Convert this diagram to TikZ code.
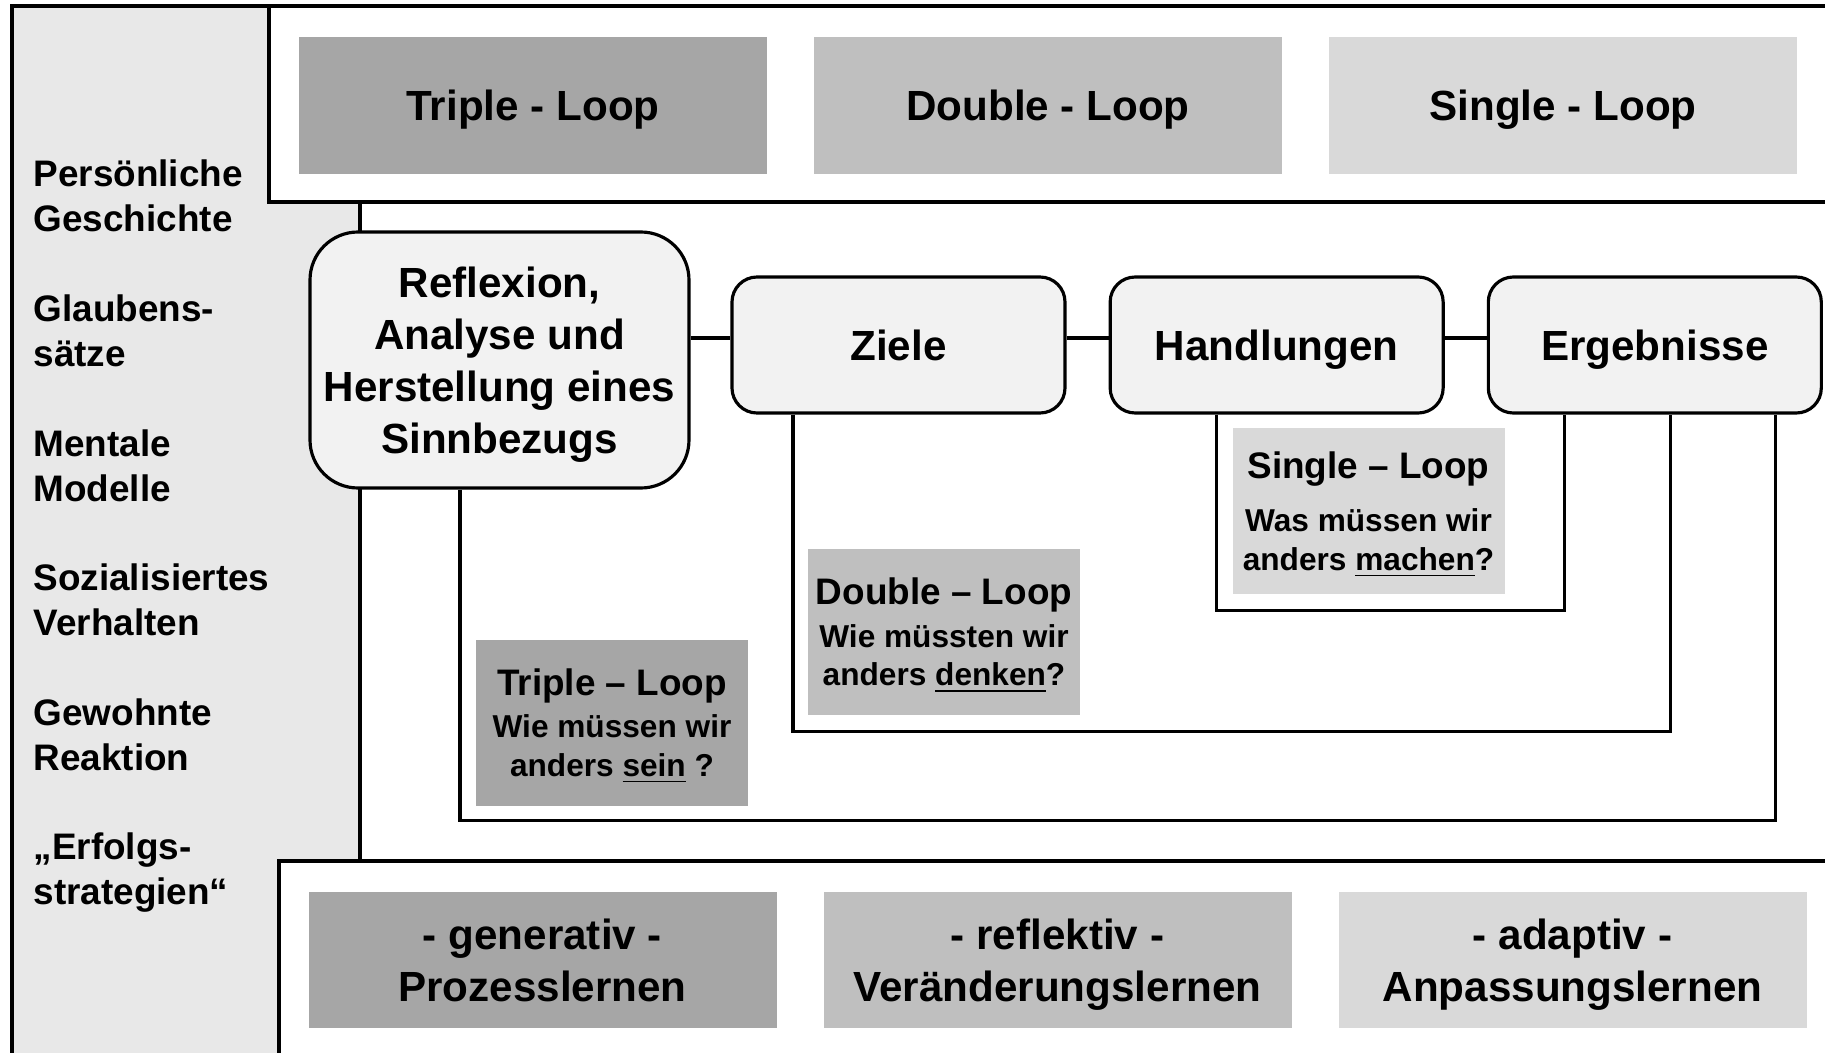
\documentclass[tikz,border=0pt]{standalone}
\usepackage{fontspec}
\setmainfont{Liberation Sans}
\usepackage{tikz}
\usetikzlibrary{positioning}
\definecolor{loopdark}{HTML}{A6A6A6}
\definecolor{loopmid}{HTML}{BFBFBF}
\definecolor{looplight}{HTML}{D9D9D9}
\definecolor{sidegray}{HTML}{E8E8E8}
\definecolor{boxgray}{HTML}{F2F2F2}
\newcommand{\asktitle}[1]{{\fontsize{10.5}{12}\selectfont #1}}

\begin{document}
\begin{tikzpicture}[x=0.1mm,y=-0.1mm,line width=0.9pt,
    band/.style={minimum width=46.8mm,minimum height=13.7mm,inner sep=0pt,outer sep=0pt,align=center,
      text depth=0pt,font=\bfseries\fontsize{12}{14.8}\selectfont},
    stepbox/.style={draw,fill=boxgray,rounded corners=2.5mm,minimum width=33.3mm,
      minimum height=13.6mm,inner sep=0pt,align=center,text depth=0pt,font=\bfseries\fontsize{12}{14.8}\selectfont},
    askbox/.style={minimum width=27.2mm,minimum height=16.6mm,inner sep=0pt,align=center,
      text depth=-1.2pt,font=\bfseries\fontsize{9}{11}\selectfont},
    sidetext/.style={anchor=west,inner sep=0pt,align=left,text depth=0pt,font=\bfseries\fontsize{10.5}{12.8}\selectfont}]
        \useasboundingbox (0,0) rectangle (1825,1053);

        % frames
        \draw[fill=sidegray] (12,6) rectangle (360,1070);
        \draw[fill=white] (269,6) rectangle (1840,202);
        \draw[fill=white] (279,861) rectangle (1840,1070);

        % left column
        \foreach \txt [count=\i from 0] in {Persönliche\\Geschichte, Glaubens-\\sätze,
            Mentale\\Modelle, Sozialisiertes\\Verhalten, Gewohnte\\Reaktion, „Erfolgs-\\strategien“}
          \node[sidetext] (side\i) at (32,{196+134.6*\i}) {\txt};

        % loop types (top)
        \node[band,fill=loopdark] (tl) at (533,105.5) {Triple - Loop};
        \node[band,fill=loopmid,right=4.7mm of tl] (dl) {Double - Loop};
        \node[band,fill=looplight,right=4.7mm of dl] (sl) {Single - Loop};

        % learning types (bottom)
        \node[band,fill=loopdark,minimum height=13.6mm] (gen) at (542.5,960) {- generativ -\\Prozesslernen};
        \node[band,fill=loopmid,minimum height=13.6mm,right=4.7mm of gen] (refk) {- reflektiv -\\Veränderungslernen};
        \node[band,fill=looplight,minimum height=13.6mm,right=4.7mm of refk] (ada) {- adaptiv -\\Anpassungslernen};

        % process chain
        \node[stepbox,rounded corners=4.8mm,minimum width=37.9mm,minimum height=25.6mm] (refl) at (499.5,360)
          {Reflexion,\\Analyse und\\Herstellung eines\\Sinnbezugs};
        \node[stepbox] (zl) at (898.5,345) {Ziele};
        \node[stepbox,right=4.2mm of zl] (hd) {Handlungen};
        \node[stepbox,right=4.2mm of hd] (eg) {Ergebnisse};
        \draw ([yshift=.7mm]zl.west -| refl.east) -- ([yshift=.7mm]zl.west);
        \draw ([yshift=.7mm]zl.east) -- ([yshift=.7mm]hd.west);
        \draw ([yshift=.7mm]hd.east) -- ([yshift=.7mm]eg.west);

        % questions
        \node[askbox,fill=looplight] (sq) at (1368.5,511)
          {\asktitle{Single – Loop}\\[4pt]Was müssen wir\\anders \underline{machen}?};
        \node[askbox,fill=loopmid] (dq) at (944,632)
          {\asktitle{Double – Loop}\\[1pt]Wie müssten wir\\anders \underline{denken}?};
        \node[askbox,fill=loopdark] (tq) at (612,722.5)
          {\asktitle{Triple – Loop}\\[1pt]Wie müssen wir\\anders \underline{sein} ?};

        % feedback loops
        \draw ([xshift=-6.05mm]hd.south) |- ([yshift=-1.5mm]sq.south) -| ([xshift=-9.05mm]eg.south);
        \draw ([xshift=-10.55mm]zl.south) |- ([yshift=-1.5mm]dq.south) -| ([xshift=1.55mm]eg.south);
        \draw ([xshift=-3.95mm]refl.south) |- ([yshift=-1.3mm]tq.south) -| ([xshift=12.05mm]eg.south);
    \end{tikzpicture}
\end{document}
